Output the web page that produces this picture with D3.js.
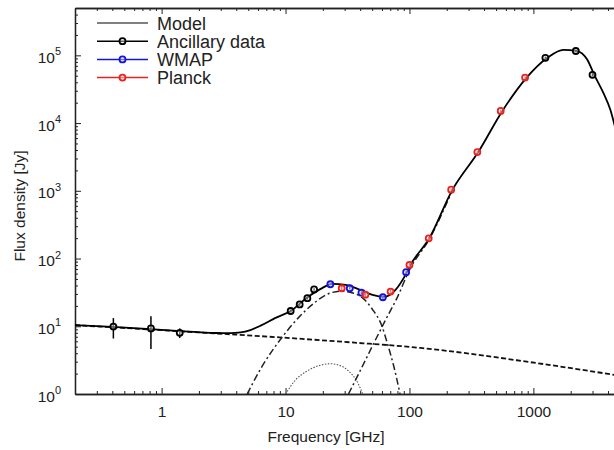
<!DOCTYPE html>
<html>
<head>
<meta charset="utf-8">
<script src="https://cdn.jsdelivr.net/npm/d3@7/dist/d3.min.js"></script>
<style>
  html, body { margin: 0; padding: 0; background: #fff; }
  svg { display: block; font-family: "Liberation Sans", Arial, Helvetica, sans-serif; }
</style>
</head>
<body>
<svg id="chart" width="614" height="450"></svg>
<script>
// ---------------- data ----------------
const ancFreq = [0.408, 0.82, 1.4, 11, 13, 15, 17, 1250, 2200, 3000];
const ancFlux = [9.9, 9.3, 8.0, 16.8, 21, 26, 35, 91900, 116000, 51500];
const ancErr  = [3.3, 4.7, 1.3, 0.8, 1.0, 1.2, 1.5, 4000, 5000, 3000];

const wmapFreq = [23, 33, 41, 61, 94];
const wmapFlux = [41.7, 36.4, 31.3, 26.8, 63];
const wmapErr  = [1.5, 1.5, 1.5, 1.5, 3];

const planckFreq = [28.4, 44.1, 70.4, 100, 143, 217, 353, 545, 857];
const planckFlux = [36.4, 29.3, 32.5, 80.5, 199, 1040, 3730, 15100, 47000];
const planckErr  = [3, 3, 3, 8, 10, 40, 150, 700, 2000];

// total model (solid)
const modelFreq = [0.2, 0.403, 0.815, 1.42, 2.72, 3.6, 4.34, 5.2, 6.29, 8.3, 11.0, 14.8, 19.2, 23.9, 30.5, 40.3, 50.3, 62.9, 77.1, 92.9, 102, 145, 222, 360, 562, 879, 1298, 1746, 2223, 2725, 3100, 3670, 4180, 4670, 5000];
const modelFlux = [10.4, 9.8, 9.1, 8.5, 7.95, 7.9, 8.1, 8.8, 10.2, 13.3, 16.8, 26.2, 35.6, 42.2, 40.7, 34.4, 29.0, 27.1, 34.4, 57.3, 80.4, 201, 1030, 3760, 15100, 46500, 91900, 120500, 116400, 85900, 51500, 27900, 15700, 7400, 4700];

// synchrotron component (dashed)
const synFreq = [0.2, 2.72, 9.45, 33.4, 123, 946, 5000];
const synFlux = [10.4, 7.85, 6.81, 5.79, 4.79, 2.95, 1.86];

// anomalous microwave emission (dash-dot)
const ameFreq = [4.9, 6.5, 9.45, 13, 17, 22, 28, 35, 42, 50, 60, 66.5, 75, 84];
const ameFlux = [1.0, 2.6, 7.0, 14, 22, 30, 33, 31, 26, 18, 10, 5.5, 2.5, 1.0];

// thermal dust (dash-dot)
const dustFreq = [32.2, 40, 51.5, 65, 80, 100, 145, 222];
const dustFlux = [1, 2.2, 5.6, 13, 27, 68, 195, 1020];

// small component (dotted)
const dotFreq = [10, 12, 15, 19, 23, 28, 33, 38, 42];
const dotFlux = [1.0, 1.6, 2.2, 2.65, 2.8, 2.6, 2.1, 1.5, 1.0];

const xTickVals = [1, 10, 100, 1000];
const yTickExps = [0, 1, 2, 3, 4, 5];

const legendLabels = ["Model", "Ancillary data", "WMAP", "Planck"];
const legendColors = ["#808080", "#000000", "#1515d8", "#e8231f"];

// ---------------- layout ----------------
const svg = d3.select("#chart");
const L = 75, R = 620, T = 8, B = 394;
const x = d3.scaleLog().domain([0.2, 5000]).range([L, R]);
const y = d3.scaleLog().domain([1, 5e5]).range([B, T]);

svg.append("defs").append("clipPath").attr("id", "clip")
  .append("rect").attr("x", L).attr("y", T).attr("width", R - L).attr("height", B - T);

const zip = (a, b, e) => a.map((v, i) => ({f: v, s: b[i], e: e ? e[i] : 0}));

// minor tick values
const xMinor = [];
for (let d = -1; d <= 3; d++) for (let k = 2; k <= 9; k++) {
  const v = k * Math.pow(10, d);
  if (v >= 0.2 && v <= 5000) xMinor.push(v);
}
const yMinor = [];
for (let d = 0; d <= 5; d++) for (let k = 2; k <= 9; k++) {
  const v = k * Math.pow(10, d);
  if (v <= 5e5) yMinor.push(v);
}

const axisColor = "#222";
function styleAxis(g) {
  g.select(".domain").attr("stroke", axisColor).attr("stroke-width", 1.3);
  g.selectAll(".tick line").attr("stroke", axisColor).attr("stroke-width", 1);
}

// bottom axis
svg.append("g").attr("transform", `translate(0,${B})`)
  .call(d3.axisBottom(x).tickValues(xMinor).tickSize(-3).tickFormat("").tickSizeOuter(0))
  .call(styleAxis);
const xb = svg.append("g").attr("transform", `translate(0,${B})`)
  .call(d3.axisBottom(x).tickValues(xTickVals).tickSize(-6).tickPadding(12).tickFormat(d3.format("d")).tickSizeOuter(0))
  .call(styleAxis);
xb.selectAll(".tick text").attr("font-size", 15.5).attr("fill", "#222")
  .attr("font-family", "Liberation Sans, Arial, sans-serif");

// top axis
svg.append("g").attr("transform", `translate(0,${T})`)
  .call(d3.axisTop(x).tickValues(xMinor).tickSize(-3).tickFormat("").tickSizeOuter(0))
  .call(styleAxis);
svg.append("g").attr("transform", `translate(0,${T})`)
  .call(d3.axisTop(x).tickValues(xTickVals).tickSize(-6).tickFormat("").tickSizeOuter(0))
  .call(styleAxis);

// left axis
svg.append("g").attr("transform", `translate(${L},0)`)
  .call(d3.axisLeft(y).tickValues(yMinor).tickSize(-3).tickFormat("").tickSizeOuter(0))
  .call(styleAxis);
const yl = svg.append("g").attr("transform", `translate(${L},0)`)
  .call(d3.axisLeft(y).tickValues(yTickExps.map(e => Math.pow(10, e))).tickSize(-6).tickFormat("").tickSizeOuter(0))
  .call(styleAxis);
yl.selectAll(".tick").each(function(d) {
  const t = d3.select(this).append("text")
    .attr("x", -14).attr("y", 7)
    .attr("text-anchor", "end").attr("fill", "#222").attr("font-size", 15.5)
    .attr("font-family", "Liberation Sans, Arial, sans-serif");
  t.append("tspan").text("10");
  t.append("tspan").attr("dy", -7.5).attr("font-size", 11).text(String(Math.round(Math.log10(d))));
});

// axis titles
svg.append("text").attr("x", 326).attr("y", 442).attr("text-anchor", "middle")
  .attr("font-size", 15.5).attr("fill", "#222").text("Frequency [GHz]");
svg.append("text").attr("transform", "translate(25,206) rotate(-90)").attr("text-anchor", "middle")
  .attr("font-size", 15.5).attr("fill", "#222").text("Flux density [Jy]");

// ---------------- curves ----------------
const plot = svg.append("g").attr("clip-path", "url(#clip)");
const line = d3.line().x(d => x(d.f)).y(d => y(d.s)).curve(d3.curveMonotoneX);

plot.append("path").datum(zip(dotFreq, dotFlux)).attr("d", line)
  .attr("fill", "none").attr("stroke", "#555").attr("stroke-width", 1.1).attr("stroke-dasharray", "1.5,1.5");
plot.append("path").datum(zip(synFreq, synFlux)).attr("d", line)
  .attr("fill", "none").attr("stroke", "#111").attr("stroke-width", 1.8).attr("stroke-dasharray", "5,2.5");
plot.append("path").datum(zip(ameFreq, ameFlux)).attr("d", line)
  .attr("fill", "none").attr("stroke", "#222").attr("stroke-width", 1.5).attr("stroke-dasharray", "7,3,2,3");
plot.append("path").datum(zip(dustFreq, dustFlux)).attr("d", line)
  .attr("fill", "none").attr("stroke", "#222").attr("stroke-width", 1.5).attr("stroke-dasharray", "7,3,2,3");
plot.append("path").datum(zip(modelFreq, modelFlux)).attr("d", line)
  .attr("fill", "none").attr("stroke", "#000").attr("stroke-width", 1.8);

// ---------------- data points ----------------
function drawSeries(data, color) {
  const g = plot.append("g");
  g.selectAll("line.err").data(data).join("line").attr("class", "err")
    .attr("x1", d => x(d.f)).attr("x2", d => x(d.f))
    .attr("y1", d => y(d.s + d.e)).attr("y2", d => y(Math.max(d.s - d.e, 1e-3)))
    .attr("stroke", color).attr("stroke-width", 1.5);
  g.selectAll("circle").data(data).join("circle")
    .attr("cx", d => x(d.f)).attr("cy", d => y(d.s)).attr("r", 3)
    .attr("fill", "#fff").attr("fill-opacity", 0.4).attr("stroke", color).attr("stroke-width", 1.8);
}
drawSeries(zip(ancFreq, ancFlux, ancErr), "#000");
drawSeries(zip(wmapFreq, wmapFlux, wmapErr), legendColors[2]);
drawSeries(zip(planckFreq, planckFlux, planckErr), legendColors[3]);

// ---------------- legend ----------------
const lg = svg.append("g");
legendLabels.forEach((lab, i) => {
  const yy = 23 + i * 18.2;
  lg.append("line").attr("x1", 97).attr("x2", 148).attr("y1", yy).attr("y2", yy)
    .attr("stroke", legendColors[i]).attr("stroke-width", i === 0 ? 2 : 1.5);
  if (i > 0) {
    lg.append("circle").attr("cx", 122.5).attr("cy", yy).attr("r", 3)
      .attr("fill", "#fff").attr("fill-opacity", 0.4).attr("stroke", legendColors[i]).attr("stroke-width", 1.8);
  }
  lg.append("text").attr("x", 157).attr("y", yy + 6.5).attr("font-size", 18).attr("fill", "#222").text(lab);
});
</script>
</body>
</html>
